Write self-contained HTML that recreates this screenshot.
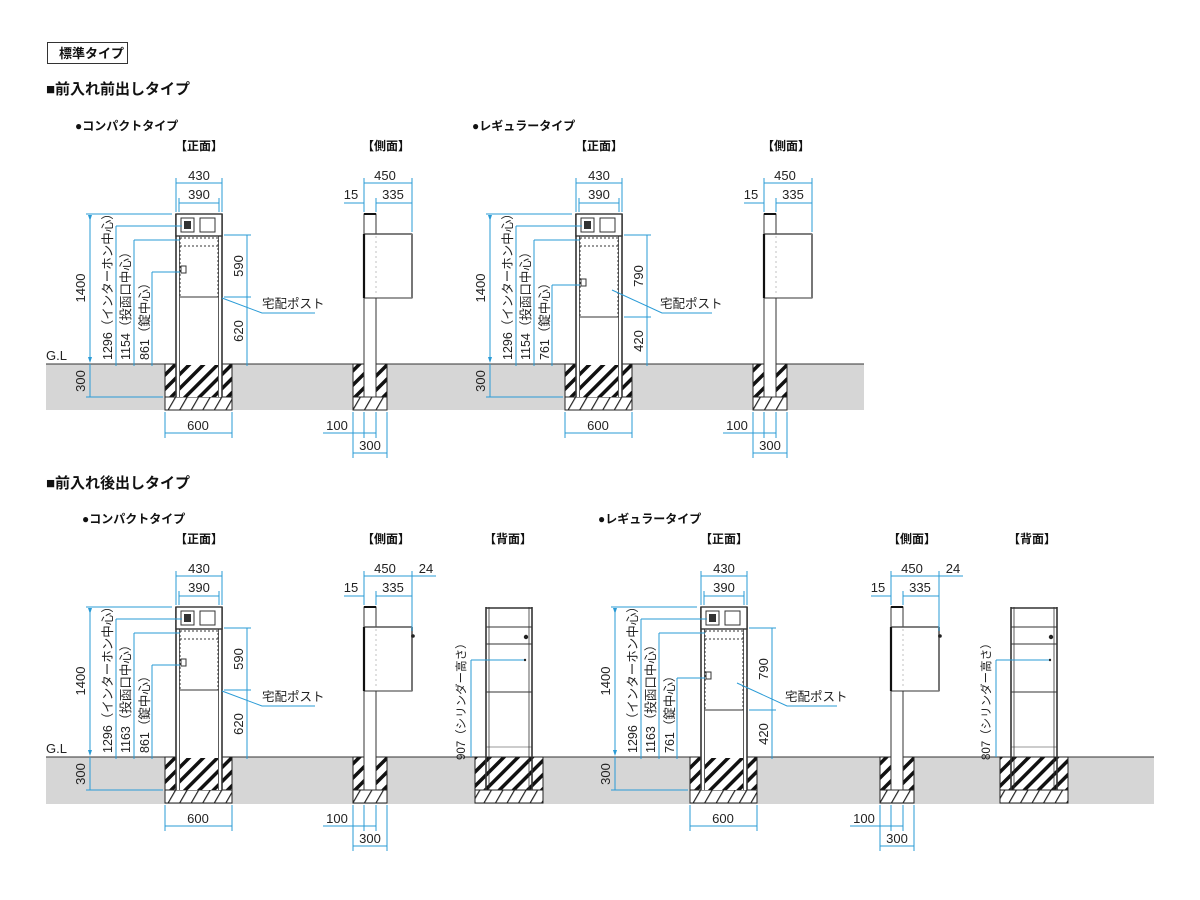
<!DOCTYPE html>
<html><head><meta charset="utf-8"><style>
html,body{margin:0;padding:0;background:#fff;}
svg{display:block;font-family:"Liberation Sans","Noto Sans CJK JP",sans-serif;}
.b{stroke:#2a9bd6;stroke-width:1;fill:none;}
.k{stroke:#333;fill:none;}
.t{font-size:13px;fill:#222;}
.j{font-size:12px;fill:#222;}
.jb{font-size:12px;fill:#111;font-weight:bold;}
.h{font-size:15px;fill:#111;font-weight:bold;}
</style></head><body>
<svg width="1200" height="900" viewBox="0 0 1200 900" xmlns="http://www.w3.org/2000/svg">
<defs>
<pattern id="hat" patternUnits="userSpaceOnUse" width="10" height="10" patternTransform="rotate(45)">
<rect width="10" height="10" fill="#fff"/><rect width="3.5" height="10" fill="#111"/></pattern>
<pattern id="hat2" patternUnits="userSpaceOnUse" width="10" height="10" patternTransform="rotate(30)">
<rect width="10" height="10" fill="#fff"/><rect width="1.2" height="10" fill="#222"/></pattern>
<marker id="ar" markerWidth="6" markerHeight="6" refX="3" refY="3" orient="auto"><path d="M0,1 L6,3 L0,5z" fill="#2a9bd6"/></marker>

<g id="found">
<rect x="165" y="364" width="67" height="33" fill="url(#hat)" stroke="#222"/>
<rect x="165" y="397" width="67" height="13" fill="url(#hat2)" stroke="#222"/>
</g>
<g id="legs">
<rect x="176" y="214" width="46" height="183" fill="#fff" stroke="none"/>
<line x1="176" y1="214" x2="176" y2="397" class="k" stroke-width="1.6"/>
<line x1="222" y1="214" x2="222" y2="397" class="k" stroke-width="1.6"/>
<line x1="179.5" y1="236" x2="179.5" y2="397" class="k" stroke-width="0.8"/>
<line x1="218.5" y1="236" x2="218.5" y2="397" class="k" stroke-width="0.8"/>
<rect x="180" y="365" width="38" height="32" fill="url(#hat)" stroke="none"/>
<rect x="176" y="214" width="46" height="22" fill="#fff" stroke="#333" stroke-width="1.4"/>
<rect x="181" y="218" width="13" height="14" fill="none" stroke="#333"/>
<rect x="184" y="221" width="7" height="8" fill="#333"/>
<rect x="200" y="218" width="15" height="14" fill="none" stroke="#333"/>
</g>
<g id="fc">
<use href="#found"/><use href="#legs"/>
<rect x="180" y="238" width="38" height="59" fill="none" stroke="#333" stroke-dasharray="2,2"/>
<line x1="180" y1="246" x2="218" y2="246" stroke="#333" stroke-dasharray="2,2"/>
<line x1="180" y1="297" x2="218" y2="297" stroke="#333"/>
<rect x="181" y="266" width="5" height="7" fill="none" stroke="#333"/>
</g>
<g id="fr">
<use href="#found"/><use href="#legs"/>
<rect x="180" y="238" width="38" height="79" fill="none" stroke="#333" stroke-dasharray="2,2"/>
<line x1="180" y1="246" x2="218" y2="246" stroke="#333" stroke-dasharray="2,2"/>
<line x1="180" y1="317" x2="218" y2="317" stroke="#333"/>
<rect x="181" y="279" width="5" height="7" fill="none" stroke="#333"/>
</g>
<g id="fdcom">
<line x1="176" y1="178" x2="176" y2="212" class="b"/><line x1="222" y1="178" x2="222" y2="212" class="b"/>
<line x1="176" y1="183" x2="222" y2="183" class="b"/>
<line x1="179" y1="198" x2="179" y2="212" class="b"/><line x1="219" y1="198" x2="219" y2="212" class="b"/>
<line x1="179" y1="203" x2="219" y2="203" class="b"/>
<line x1="86" y1="214" x2="172" y2="214" class="b"/>
<line x1="90" y1="218" x2="90" y2="360" class="b" marker-start="url(#ar)" marker-end="url(#ar)"/>
<line x1="90" y1="364" x2="90" y2="397" class="b"/>
<line x1="86" y1="397" x2="163" y2="397" class="b"/>
<line x1="116" y1="226" x2="182" y2="226" class="b"/><line x1="116" y1="226" x2="116" y2="366" class="b"/>
<line x1="134" y1="240" x2="180" y2="240" class="b"/><line x1="134" y1="240" x2="134" y2="366" class="b"/>
<line x1="165" y1="412" x2="165" y2="438" class="b"/><line x1="232" y1="412" x2="232" y2="438" class="b"/>
<line x1="165" y1="433" x2="232" y2="433" class="b"/>
<line x1="224" y1="235" x2="251" y2="235" class="b"/>
<line x1="247" y1="235" x2="247" y2="366" class="b"/>
</g>
<g id="fdc"><use href="#fdcom"/>
<line x1="152" y1="272" x2="180" y2="272" class="b"/><line x1="152" y1="272" x2="152" y2="366" class="b"/>
<line x1="224" y1="297" x2="251" y2="297" class="b"/>
<polyline points="222,298 262,313 315,313" class="b"/>
</g>
<g id="fdr"><use href="#fdcom"/>
<line x1="152" y1="285" x2="180" y2="285" class="b"/><line x1="152" y1="285" x2="152" y2="366" class="b"/>
<line x1="224" y1="317" x2="251" y2="317" class="b"/>
<polyline points="212,290 262,313 312,313" class="b"/>
</g>
<g id="side">
<rect x="353" y="364" width="34" height="33" fill="url(#hat)" stroke="#222"/>
<rect x="353" y="397" width="34" height="13" fill="url(#hat2)" stroke="#222"/>
<rect x="364" y="214" width="12" height="183" fill="#fff" stroke="#333"/>
<line x1="364" y1="214" x2="376" y2="214" stroke="#111" stroke-width="2"/>
<rect x="364" y="234" width="48" height="64" fill="#fff" stroke="#333"/>
<line x1="364" y1="234" x2="412" y2="234" stroke="#555" stroke-width="1.5"/>
<line x1="376" y1="236" x2="376" y2="296" stroke="#999" stroke-dasharray="2,3" stroke-width="0.6"/>
<line x1="412" y1="234" x2="412" y2="298" stroke="#777" stroke-width="2"/>
<line x1="364" y1="234" x2="364" y2="298" stroke="#111" stroke-width="2.2"/>
<line x1="364" y1="178" x2="364" y2="212" class="b"/><line x1="412" y1="178" x2="412" y2="232" class="b"/>
<line x1="364" y1="183" x2="412" y2="183" class="b"/>
<line x1="344" y1="203" x2="364" y2="203" class="b"/><line x1="376" y1="198" x2="376" y2="212" class="b"/>
<line x1="376" y1="203" x2="412" y2="203" class="b"/>
<line x1="353" y1="412" x2="353" y2="458" class="b"/><line x1="364" y1="412" x2="364" y2="438" class="b"/>
<line x1="376" y1="412" x2="376" y2="438" class="b"/><line x1="387" y1="412" x2="387" y2="458" class="b"/>
<line x1="323" y1="433" x2="376" y2="433" class="b"/>
<line x1="353" y1="453" x2="387" y2="453" class="b"/>
</g>
<g id="back">
<rect x="475" y="757" width="68" height="33" fill="url(#hat)" stroke="#222"/>
<rect x="475" y="790" width="68" height="13" fill="url(#hat2)" stroke="#222"/>
<line x1="486" y1="607" x2="486" y2="790" stroke="#333" stroke-width="1.6"/>
<line x1="532" y1="607" x2="532" y2="790" stroke="#333" stroke-width="1.6"/>
<line x1="489" y1="607" x2="489" y2="790" stroke="#333" stroke-width="0.8"/>
<line x1="529" y1="607" x2="529" y2="790" stroke="#333" stroke-width="0.8"/>
<line x1="486" y1="608" x2="532" y2="608" stroke="#333" stroke-width="1.6"/>
<line x1="486" y1="627" x2="532" y2="627" stroke="#333"/>
<line x1="486" y1="644" x2="532" y2="644" stroke="#333"/>
<line x1="486" y1="692" x2="532" y2="692" stroke="#333"/>
<line x1="486" y1="747" x2="532" y2="747" stroke="#333" stroke-width="0.6"/>
<circle cx="526" cy="637" r="2.2" fill="#222"/>
<circle cx="525" cy="660" r="1.2" fill="#222"/>
<line x1="471" y1="660" x2="524" y2="660" class="b"/>
<line x1="471" y1="660" x2="471" y2="757" class="b"/>
</g>
</defs>

<rect x="46" y="364" width="818" height="46" fill="#d6d6d6"/>
<line x1="46" y1="364" x2="864" y2="364" stroke="#333"/>
<rect x="46" y="757" width="1108" height="47" fill="#d6d6d6"/>
<line x1="46" y1="757" x2="1154" y2="757" stroke="#333"/>

<rect x="47.5" y="42.5" width="80" height="21" fill="#fff" stroke="#333"/>
<text x="59" y="58" class="jb" style="font-size:13px">標準タイプ</text>
<text x="46" y="94" class="h">■前入れ前出しタイプ</text>
<text x="46" y="488" class="h">■前入れ後出しタイプ</text>
<text x="75" y="130" class="jb">●コンパクトタイプ</text>
<text x="472" y="130" class="jb">●レギュラータイプ</text>
<text x="82" y="523" class="jb">●コンパクトタイプ</text>
<text x="598" y="523" class="jb">●レギュラータイプ</text>
<text x="175" y="150" class="jb">【正面】</text>
<text x="362" y="150" class="jb">【側面】</text>
<text x="575" y="150" class="jb">【正面】</text>
<text x="762" y="150" class="jb">【側面】</text>
<text x="175" y="543" class="jb">【正面】</text>
<text x="362" y="543" class="jb">【側面】</text>
<text x="484" y="543" class="jb">【背面】</text>
<text x="700" y="543" class="jb">【正面】</text>
<text x="888" y="543" class="jb">【側面】</text>
<text x="1008" y="543" class="jb">【背面】</text>
<text x="46" y="360" class="t">G.L</text>
<text x="46" y="753" class="t">G.L</text>

<use href="#fc"/><use href="#fdc"/><use href="#side"/>
<g class="t" text-anchor="middle">
<text x="199" y="180">430</text><text x="199" y="199">390</text><text x="198" y="430">600</text>
<text x="385" y="180">450</text><text x="351" y="199">15</text><text x="393" y="199">335</text>
<text x="337" y="430">100</text><text x="370" y="450">300</text>
<text transform="translate(85,288) rotate(-90)">1400</text>
<text transform="translate(85,381) rotate(-90)">300</text>
<text transform="translate(243,266) rotate(-90)">590</text>
<text transform="translate(243,331) rotate(-90)">620</text>
</g>
<g class="j" style="font-size:12.5px">
<text transform="translate(112,360) rotate(-90)">1296（インターホン中心）</text>
<text transform="translate(130,360) rotate(-90)">1154（投函口中心）</text>
<text transform="translate(149,360) rotate(-90)">861（錠中心）</text>
<text x="262" y="308">宅配ポスト</text>
</g>

<g transform="translate(400,0)"><use href="#fr"/><use href="#fdr"/><use href="#side"/></g>
<g class="t" text-anchor="middle" transform="translate(400,0)">
<text x="199" y="180">430</text><text x="199" y="199">390</text><text x="198" y="430">600</text>
<text x="385" y="180">450</text><text x="351" y="199">15</text><text x="393" y="199">335</text>
<text x="337" y="430">100</text><text x="370" y="450">300</text>
<text transform="translate(85,288) rotate(-90)">1400</text>
<text transform="translate(85,381) rotate(-90)">300</text>
<text transform="translate(243,276) rotate(-90)">790</text>
<text transform="translate(243,341) rotate(-90)">420</text>
</g>
<g class="j" style="font-size:12.5px" transform="translate(400,0)">
<text transform="translate(112,360) rotate(-90)">1296（インターホン中心）</text>
<text transform="translate(130,360) rotate(-90)">1154（投函口中心）</text>
<text transform="translate(149,360) rotate(-90)">761（錠中心）</text>
<text x="260" y="308">宅配ポスト</text>
</g>

<g transform="translate(0,393)"><use href="#fc"/><use href="#fdc"/><use href="#side"/>
<line x1="412" y1="178" x2="412" y2="238" class="b"/>
<line x1="412" y1="183" x2="436" y2="183" class="b"/>
<circle cx="413" cy="243" r="1.8" fill="#222"/>
</g>
<use href="#back"/>
<g class="t" text-anchor="middle" transform="translate(0,393)">
<text x="199" y="180">430</text><text x="199" y="199">390</text><text x="198" y="430">600</text>
<text x="385" y="180">450</text><text x="351" y="199">15</text><text x="393" y="199">335</text><text x="426" y="180">24</text>
<text x="337" y="430">100</text><text x="370" y="450">300</text>
<text transform="translate(85,288) rotate(-90)">1400</text>
<text transform="translate(85,381) rotate(-90)">300</text>
<text transform="translate(243,266) rotate(-90)">590</text>
<text transform="translate(243,331) rotate(-90)">620</text>
</g>
<g class="j" style="font-size:12.5px" transform="translate(0,393)">
<text transform="translate(112,360) rotate(-90)">1296（インターホン中心）</text>
<text transform="translate(130,360) rotate(-90)">1163（投函口中心）</text>
<text transform="translate(149,360) rotate(-90)">861（錠中心）</text>
<text x="262" y="308">宅配ポスト</text>
</g>
<text class="j" transform="translate(465,760) rotate(-90)" style="font-size:11.5px">907（シリンダー高さ）</text>

<g transform="translate(525,393)"><use href="#fr"/><use href="#fdr"/></g>
<g transform="translate(527,393)"><use href="#side"/>
<line x1="412" y1="178" x2="412" y2="238" class="b"/><line x1="412" y1="183" x2="436" y2="183" class="b"/>
<circle cx="413" cy="243" r="1.8" fill="#222"/></g>
<g transform="translate(525,0)"><use href="#back"/></g>
<g class="t" text-anchor="middle" transform="translate(525,393)">
<text x="199" y="180">430</text><text x="199" y="199">390</text><text x="198" y="430">600</text>
<text transform="translate(85,288) rotate(-90)">1400</text>
<text transform="translate(85,381) rotate(-90)">300</text>
<text transform="translate(243,276) rotate(-90)">790</text>
<text transform="translate(243,341) rotate(-90)">420</text>
</g>
<g class="t" text-anchor="middle" transform="translate(527,393)">
<text x="385" y="180">450</text><text x="351" y="199">15</text><text x="393" y="199">335</text><text x="426" y="180">24</text>
<text x="337" y="430">100</text><text x="370" y="450">300</text>
</g>
<g class="j" style="font-size:12.5px" transform="translate(525,393)">
<text transform="translate(112,360) rotate(-90)">1296（インターホン中心）</text>
<text transform="translate(130,360) rotate(-90)">1163（投函口中心）</text>
<text transform="translate(149,360) rotate(-90)">761（錠中心）</text>
<text x="260" y="308">宅配ポスト</text>
</g>
<text class="j" transform="translate(990,760) rotate(-90)" style="font-size:11.5px">807（シリンダー高さ）</text>
</svg>
</body></html>
